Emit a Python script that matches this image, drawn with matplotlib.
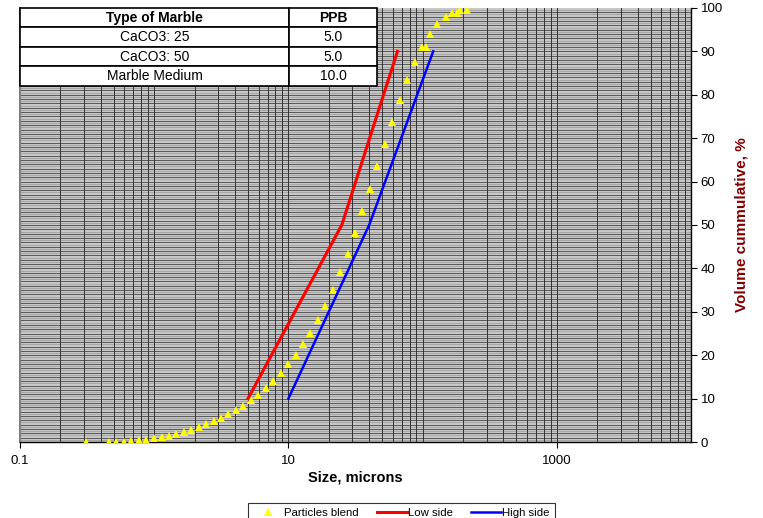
import matplotlib
matplotlib.use("Agg")
import matplotlib.pyplot as plt
from matplotlib.ticker import FixedLocator, NullFormatter
import numpy as np

plt.rcParams['font.family'] = ['Liberation Sans', 'DejaVu Sans']

# particle size distribution of the blend (microns, cumulative volume %)
size_blend = [0.311, 0.462, 0.523, 0.597, 0.677, 0.773, 0.876, 0.995, 1.134, 1.287,
              1.459, 1.654, 1.888, 2.141, 2.431, 2.770, 3.146, 3.566, 4.071, 4.616,
              5.232, 5.972, 6.771, 7.688, 8.761, 9.95, 11.34, 12.87, 14.59, 16.54,
              18.88, 21.41, 24.44, 27.70, 31.46, 35.66, 40.44, 45.91, 52.05, 59.39,
              67.71, 76.88, 87.6, 99.5, 105.8, 112.8, 128.7, 148.5, 165.4, 179.4,
              188.8, 213.0]
vol_blend = [0.0, 0.0, 0.0, 0.1, 0.25, 0.4, 0.55, 0.85, 1.15, 1.4,
             1.8, 2.25, 2.8, 3.5, 4.2, 4.85, 5.55, 6.4, 7.3, 8.4,
             9.6, 10.9, 12.4, 14.0, 16.0, 17.9, 20.1, 22.5, 25.2, 28.1,
             31.3, 35.0, 39.1, 43.4, 48.1, 53.2, 58.3, 63.6, 68.6, 73.8,
             78.8, 83.3, 87.5, 91.0, 91.0, 93.9, 96.2, 97.9, 98.9, 98.9,
             99.6, 99.6]

# target band
size_low = [5, 25, 65]
size_high = [10, 40, 120]
vol_band = [10, 50, 90]

table_rows = [["Type of Marble", "PPB"],
              ["CaCO3: 25", "5.0"],
              ["CaCO3: 50", "5.0"],
              ["Marble Medium", "10.0"]]

fig = plt.figure(figsize=(7.63, 5.18), dpi=100)
ax = fig.add_axes([0.0262, 0.1467, 0.8794, 0.8379])
ax.set_facecolor('#c8c8c8')

ax.set_xscale('log')
ax.set_xlim(0.1, 10000)
ax.set_ylim(0, 100)

# dense grid
for yy in np.arange(0.5, 100, 1.0):
    ax.axhline(yy, color='#a6a6a6', lw=0.8, zorder=0.5)
for yy in np.arange(1, 100, 1.0):
    ax.axhline(yy, color='#1a1a1a', lw=0.45, zorder=0.6)
for dec in [0.1, 1, 10, 100, 1000]:
    for m in range(1, 10):
        v = dec * m
        if v > 0.1:
            ax.axvline(v, color='#2a2a2a', lw=0.65, zorder=0.7)

ax.plot(size_blend, vol_blend, linestyle='none', marker='^', color='#ffff00',
        markersize=6, markeredgewidth=0, label='Particles blend', zorder=3)
ax.plot(size_low, vol_band, color='#ff0000', lw=2.2, label='Low side', zorder=4)
ax.plot(size_high, vol_band, color='#0000ff', lw=1.8, label='High side', zorder=4)

ax.xaxis.set_major_locator(FixedLocator([0.1, 10, 1000]))
ax.xaxis.set_major_formatter(plt.FuncFormatter(lambda v, p: {0.1: '0.1', 10: '10', 1000: '1000'}.get(v, '')))
ax.xaxis.set_minor_locator(FixedLocator([]))
ax.xaxis.set_minor_formatter(NullFormatter())
ax.set_yticks(np.arange(0, 101, 10))
ax.yaxis.tick_right()
ax.yaxis.set_label_position('right')
ax.tick_params(axis='both', labelsize=9.5, length=4, width=0.8, direction='out', color='black')
ax.tick_params(axis='x', pad=5)
ax.tick_params(axis='y', pad=3)

ax.spines['top'].set_visible(False)
ax.spines['left'].set_color('#808080')
ax.spines['left'].set_linewidth(1.5)
for s in ['bottom', 'right']:
    ax.spines[s].set_color('black')
    ax.spines[s].set_linewidth(1.0)

ax.set_xlabel('Size, microns', fontsize=10.5, fontweight='bold', labelpad=3)
ax.set_ylabel('Volume cummulative, %', fontsize=11, fontweight='bold', color='#800000', labelpad=8)

tbl = ax.table(cellText=table_rows, cellLoc='center', colWidths=[0.7535, 0.2465],
               bbox=[0, 0.8203, 0.532, 0.1797], zorder=5)
tbl.auto_set_font_size(False)
for (r, c), cell in tbl.get_celld().items():
    cell.set_facecolor('white')
    cell.set_edgecolor('black')
    cell.set_linewidth(1.2)
    cell.get_text().set_fontsize(10)
    if r == 0:
        cell.get_text().set_fontweight('bold')

leg = fig.legend(loc='upper center', bbox_to_anchor=(0.526, 0.0405), ncol=3,
                 fontsize=8.2, frameon=True, fancybox=False, edgecolor='black',
                 handlelength=2.6, handletextpad=0.1, columnspacing=1.6,
                 borderpad=0.5)
leg.get_frame().set_linewidth(0.8)

fig.savefig('out.png', dpi=100)
